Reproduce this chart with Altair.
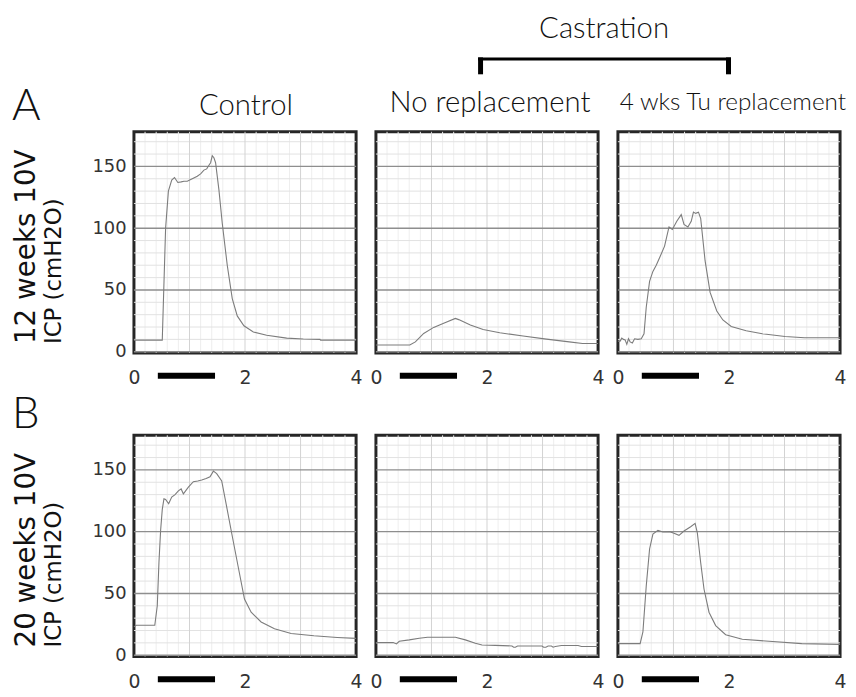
import altair as alt
import pandas as pd

# ---------------- data ----------------
X_DOMAIN = [0, 4]
Y_DOMAIN = [-1, 178]
X_LABELS = [0, 2, 4]
Y_LABELS = [0, 50, 100, 150]
MAJOR_Y = [0, 50, 100, 150]
MINOR_Y = [v for v in range(0, 180, 10) if v not in (0, 50, 100, 150)]
MAJOR_X = [1, 2, 3]
MINOR_X = [round(i * 0.2, 1) for i in range(1, 20) if i % 5 != 0]
STIM = [0.43, 1.46]  # stimulation bar (s)

a_ctrl_x = [0, 0.51, 0.53, 0.57, 0.62, 0.68, 0.73, 0.79, 0.85, 0.90, 0.96, 1.05, 1.14, 1.20, 1.26, 1.31,
            1.35, 1.38, 1.41, 1.44, 1.47, 1.53, 1.59, 1.68, 1.77, 1.86, 1.98, 2.15, 2.39, 2.75, 3.05, 3.35,
            3.36, 4.0]
a_ctrl_y = [9.4, 9.4, 40, 100, 130, 139, 141, 137, 137.5, 138, 138, 140, 142, 144, 147, 148,
            151, 153, 158.6, 157, 153, 131, 104, 70, 43, 29, 21, 16, 13.4, 11, 10.3, 10,
            9.4, 9.4]

a_norep_x = [0, 0.61, 0.71, 0.86, 1.04, 1.22, 1.43, 1.49, 1.70, 1.93, 2.23, 2.65, 3.07, 3.48, 3.72, 4.0]
a_norep_y = [5.4, 5.4, 8, 14.8, 19.7, 23, 27, 26, 21.6, 18, 15.4, 12.7, 10.2, 8, 6.7, 6.7]

a_tu_x = [0, 0.04, 0.07, 0.10, 0.13, 0.16, 0.19, 0.22, 0.26, 0.30, 0.36, 0.42, 0.47, 0.51, 0.57, 0.63,
          0.69, 0.75, 0.84, 0.92, 0.98, 1.06, 1.14, 1.19, 1.26, 1.32, 1.36, 1.40, 1.45, 1.49, 1.57, 1.66,
          1.78, 1.89, 2.04, 2.31, 2.6, 3.01, 3.36, 4.0]
a_tu_y = [8.6, 8.6, 11, 10, 9.6, 6, 10.5, 8, 7, 10.5, 10, 10.5, 14.5, 36, 57, 65,
          70, 76, 85.5, 101, 99, 105.6, 111, 103, 101, 105.6, 113, 112, 113, 108, 73.5, 48,
          33, 25.7, 20.4, 17, 14.5, 12.3, 11.3, 11.3]

b_ctrl_x = [0, 0.04, 0.375, 0.42, 0.45, 0.48, 0.51, 0.54, 0.57, 0.625, 0.68, 0.74, 0.80, 0.85, 0.89, 0.98,
            1.07, 1.15, 1.22, 1.30, 1.37, 1.43, 1.49, 1.58, 1.67, 1.76, 1.875, 1.99, 2.11, 2.29, 2.53, 2.83,
            3.24, 3.66, 4.0]
b_ctrl_y = [22.9, 24.2, 24.2, 40, 75, 101, 118, 126.6, 126, 122.6, 128, 130, 133, 134.6, 130.6, 136,
            140.4, 141, 141.8, 143, 144.4, 149, 147, 141, 120, 98.7, 72, 45.5, 34.8, 26.9, 21.5, 17.6,
            15.7, 14.4, 13.6]

b_norep_x = [0, 0.31, 0.37, 0.42, 0.60, 0.78, 0.93, 1.43, 1.61, 1.79, 1.91, 2.15, 2.45, 2.48, 2.51, 2.55,
             2.99, 3.02, 3.06, 3.10, 3.16, 3.19, 3.23, 3.34, 3.64, 3.70, 4.0]
b_norep_y = [10.2, 10.2, 9.1, 11.3, 12.4, 13.7, 14.5, 14.5, 12.4, 9.7, 8.3, 8, 7.5, 6.5, 6.5, 7.5,
             7.5, 6.5, 6.5, 7.5, 7.5, 6.5, 7.0, 7.8, 7.8, 7, 7]

b_tu_x = [0, 0.40, 0.45, 0.51, 0.57, 0.63, 0.72, 0.81, 0.93, 1.01, 1.10, 1.19, 1.31, 1.39, 1.43, 1.49,
          1.55, 1.64, 1.76, 1.94, 2.24, 2.72, 3.31, 4.0]
b_tu_y = [9.4, 9.4, 18.8, 56, 86, 98, 101, 99.7, 100, 98.7, 97, 100.5, 104, 106.7, 99, 75,
          53.6, 34.8, 24, 16.6, 12.9, 11.3, 9.4, 8.8]

COL_TITLES = ["Control", "No replacement", "4 wks Tu replacement"]
ROW_LETTERS = ["A", "B"]
ROW_TITLES = [["12 weeks 10V", "ICP (cmH2O)"], ["20 weeks 10V", "ICP (cmH2O)"]]
GROUP_TITLE = "Castration"

TRACES = [[(a_ctrl_x, a_ctrl_y), (a_norep_x, a_norep_y), (a_tu_x, a_tu_y)],
          [(b_ctrl_x, b_ctrl_y), (b_norep_x, b_norep_y), (b_tu_x, b_tu_y)]]

# ---------------- layout ----------------
W, H = 224, 223
TITLE_FONT = "Lato"
NUM_FONT = "DejaVu Sans"

xs = alt.Scale(domain=X_DOMAIN, nice=False, zero=False)
ys = alt.Scale(domain=Y_DOMAIN, nice=False, zero=False)

one = pd.DataFrame({"k": [0]})


def text_layer(txt, x, y, size, align="center", angle=0, font=TITLE_FONT, weight=300, color="#111111"):
    kw = dict(text=txt, fontSize=size, align=align, font=font, fontWeight=weight,
              color=color, baseline="alphabetic")
    if angle:
        kw["angle"] = angle
    return alt.Chart(one).mark_text(**kw).encode(x=alt.value(x), y=alt.value(y))


def panel(r, c):
    tx, ty = TRACES[r][c]
    xaxis = alt.Axis(values=X_LABELS, grid=False, domain=False, ticks=False, tickSize=0,
                     labelPadding=25, labelBaseline="middle", labelFontSize=19, labelFlush=False,
                     labelFont=NUM_FONT, labelColor="#333333", title=None, format="d")
    if c == 0:
        yaxis = alt.Axis(values=Y_LABELS, grid=False, domain=False, ticks=False, tickSize=0,
                         labelPadding=8, labelFontSize=18, labelFont=NUM_FONT, labelColor="#333333",
                         title=None, format="d")
    else:
        yaxis = None

    layers = []
    layers.append(alt.Chart(pd.DataFrame({"v": MINOR_X})).mark_rule(color="#eeeeee", strokeWidth=1)
                  .encode(x=alt.X("v:Q", scale=xs, axis=xaxis)))
    layers.append(alt.Chart(pd.DataFrame({"v": MINOR_Y})).mark_rule(color="#e2e2e2", strokeWidth=1)
                  .encode(y=alt.Y("v:Q", scale=ys, axis=yaxis)))
    layers.append(alt.Chart(pd.DataFrame({"v": MAJOR_X})).mark_rule(color="#d2d2d2", strokeWidth=1)
                  .encode(x=alt.X("v:Q", scale=xs, axis=xaxis)))
    layers.append(alt.Chart(pd.DataFrame({"v": MAJOR_Y})).mark_rule(color="#8e8e8e", strokeWidth=1.4)
                  .encode(y=alt.Y("v:Q", scale=ys, axis=yaxis)))

    trace_df = pd.DataFrame({"t": tx, "p": ty})
    layers.append(alt.Chart(trace_df).mark_line(color="#7c7c7c", strokeWidth=1.1)
                  .encode(x=alt.X("t:Q", scale=xs, axis=xaxis),
                          y=alt.Y("p:Q", scale=ys, axis=yaxis)))

    layers.append(alt.Chart(pd.DataFrame({"s": [STIM[0]], "e": [STIM[1]]}))
                  .mark_rule(color="#000000", strokeWidth=6, strokeCap="butt")
                  .encode(x=alt.X("s:Q", scale=xs, axis=xaxis), x2="e:Q", y=alt.value(H + 23)))

    if c == 0:
        layers.append(text_layer(ROW_LETTERS[r], -123, -11.5 if r == 0 else -7, 44, align="left"))
        layers.append(text_layer(ROW_TITLES[r][0], -100, 214, 28, align="left", angle=270,
                                 font=NUM_FONT, weight=400))
        layers.append(text_layer(ROW_TITLES[r][1], -74, 214, 23, align="left", angle=270,
                                 font=NUM_FONT, weight=400))
    if r == 0:
        if c == 0:
            layers.append(text_layer(COL_TITLES[0], 113, -17, 29.5))
        elif c == 1:
            layers.append(text_layer(COL_TITLES[1], 115, -20, 29.5))
            layers.append(text_layer(GROUP_TITLE, 230, -95, 29.5))
            bracket = alt.Chart(one)
            layers.append(bracket.mark_rule(color="#000000", strokeWidth=3)
                          .encode(x=alt.value(103), x2=alt.value(358), y=alt.value(-73.5)))
            layers.append(bracket.mark_rule(color="#000000", strokeWidth=5, strokeCap="butt")
                          .encode(x=alt.value(105.5), y=alt.value(-75), y2=alt.value(-58)))
            layers.append(bracket.mark_rule(color="#000000", strokeWidth=5, strokeCap="butt")
                          .encode(x=alt.value(355.5), y=alt.value(-75), y2=alt.value(-58)))
        else:
            layers.append(text_layer(COL_TITLES[2], 116, -22, 24.5))

    return alt.layer(*layers).properties(width=W, height=H)


panels = [panel(r, c) for r in range(2) for c in range(3)]

chart = (
    alt.ConcatChart(
        concat=panels,
        columns=3,
        spacing={"row": 83, "column": 20},
        bounds="flush",
        padding={"left": 2, "top": 1, "right": -1, "bottom": -3},
        background="white",
    )
    .configure_view(stroke="#262626", strokeWidth=3)
    .configure_axisX(labelFontSize=19, labelFont=NUM_FONT, labelColor="#333333",
                     labelPadding=25, labelBaseline="middle", labelFlush=False)
    .configure_axisY(labelFontSize=18, labelFont=NUM_FONT, labelColor="#333333", labelPadding=8)
)

chart.save("out.html", embed_options={"renderer": "svg", "actions": False})
